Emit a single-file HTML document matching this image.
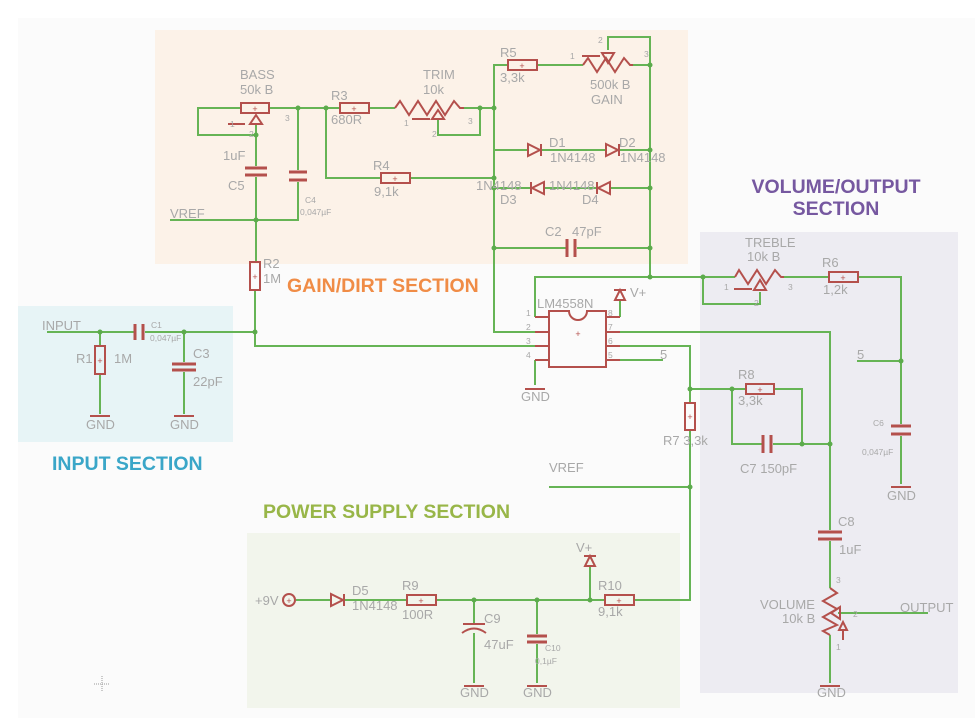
<!DOCTYPE html>
<html><head><meta charset="utf-8"><style>
html,body{margin:0;padding:0;background:#fff}
svg{display:block}
text{font-family:"Liberation Sans",sans-serif}
.t{fill:#a8a8a8;font-size:13px}
.s{fill:#a8a8a8;font-size:8.5px}
.w{stroke:#66b455;stroke-width:2;fill:none}
.c{stroke:#b4504c;stroke-width:2;fill:none}
.cf{fill:#b4504c;stroke:none}
.d{fill:#5cab4c}
.h{font-weight:bold;font-size:19.5px}
</style></head><body>
<svg width="978" height="723" viewBox="0 0 978 723" xmlns="http://www.w3.org/2000/svg">
<rect x="0" y="0" width="978" height="723" fill="#fff"/>
<rect x="18" y="18" width="957" height="700" fill="#fbfbfb"/>
<rect x="155" y="30" width="533" height="234" fill="#fcf2e8"/>
<rect x="18" y="306" width="215" height="136" fill="#e7f4f6"/>
<rect x="247" y="533" width="433" height="175" fill="#f2f5ec"/>
<rect x="700" y="232" width="258" height="461" fill="#edecf2"/>

<text x="287" y="292" class="h" fill="#f08c46">GAIN/DIRT SECTION</text>
<text x="52" y="470" class="h" fill="#3aa6c8">INPUT SECTION</text>
<text x="263" y="518" class="h" fill="#98b648">POWER SUPPLY SECTION</text>
<text x="836" y="193" class="h" fill="#7658a0" text-anchor="middle">VOLUME/OUTPUT</text>
<text x="836" y="215" class="h" fill="#7658a0" text-anchor="middle">SECTION</text>

<g class="w">
<polyline points="241,108 198,108 198,135 256,135 256,124"/>
<line x1="269" y1="108" x2="340" y2="108"/>
<line x1="256" y1="135" x2="256" y2="166"/>
<line x1="256" y1="177" x2="256" y2="262"/>
<polyline points="298,108 298,170"/>
<polyline points="298,182 298,220 170,220"/>
<line x1="369" y1="108" x2="395" y2="108"/>
<line x1="464" y1="108" x2="494" y2="108"/>
<polyline points="438,120 438,135 480,135 480,108"/>
<polyline points="326,108 326,178 381,178"/>
<line x1="410" y1="178" x2="494" y2="178"/>
<polyline points="508,65 494,65 494,332 535,332"/>
<line x1="537" y1="65" x2="583" y2="65"/>
<line x1="633" y1="65" x2="650" y2="65"/>
<polyline points="608,50 608,37 650,37 650,277"/>
<line x1="494" y1="150" x2="528" y2="150"/>
<line x1="541" y1="150" x2="606" y2="150"/>
<line x1="619" y1="150" x2="650" y2="150"/>
<line x1="494" y1="188" x2="531" y2="188"/>
<line x1="544" y1="188" x2="597" y2="188"/>
<line x1="610" y1="188" x2="650" y2="188"/>
<line x1="494" y1="248" x2="566" y2="248"/>
<line x1="577" y1="248" x2="650" y2="248"/>
<polyline points="535,317 535,277 735,277"/>
<polyline points="784,277 829,277"/>
<polyline points="858,277 901,277 901,424"/>
<line x1="901" y1="436" x2="901" y2="484"/>
<line x1="857" y1="361" x2="901" y2="361"/>
<polyline points="760,292 760,304 703,304 703,277"/>
<polyline points="255,332 255,346 535,346"/>
<polyline points="535,360 535,385"/>
<polyline points="620,317 620,300"/>
<polyline points="620,332 830,332 830,530"/>
<line x1="830" y1="541" x2="830" y2="588"/>
<line x1="830" y1="635" x2="830" y2="683"/>
<line x1="838" y1="613" x2="928" y2="613"/>
<polyline points="620,346 690,346 690,403"/>
<polyline points="690,430 690,600 634,600"/>
<line x1="620" y1="360" x2="663" y2="360"/>
<line x1="549" y1="487" x2="690" y2="487"/>
<polyline points="690,389 746,389"/>
<polyline points="774,389 802,389 802,444"/>
<polyline points="732,389 732,444 762,444"/>
<line x1="773" y1="444" x2="830" y2="444"/>
<line x1="47" y1="332" x2="134" y2="332"/>
<line x1="145" y1="332" x2="255" y2="332"/>
<line x1="255" y1="332" x2="255" y2="290"/>
<line x1="100" y1="332" x2="100" y2="346"/>
<line x1="100" y1="374" x2="100" y2="414"/>
<line x1="184" y1="332" x2="184" y2="362"/>
<line x1="184" y1="372" x2="184" y2="414"/>
<line x1="296" y1="600" x2="330" y2="600"/>
<line x1="344" y1="600" x2="407" y2="600"/>
<line x1="436" y1="600" x2="605" y2="600"/>
<line x1="474" y1="600" x2="474" y2="623"/>
<line x1="474" y1="633" x2="474" y2="683"/>
<line x1="537" y1="600" x2="537" y2="634"/>
<line x1="537" y1="644" x2="537" y2="683"/>
<line x1="590" y1="600" x2="590" y2="566"/>
</g>

<g class="d">
<circle cx="256" cy="135" r="2.5"/><circle cx="298" cy="108" r="2.5"/><circle cx="326" cy="108" r="2.5"/>
<circle cx="256" cy="220" r="2.5"/><circle cx="480" cy="108" r="2.5"/><circle cx="494" cy="108" r="2.5"/>
<circle cx="494" cy="178" r="2.5"/><circle cx="494" cy="188" r="2.5"/><circle cx="494" cy="248" r="2.5"/>
<circle cx="650" cy="65" r="2.5"/><circle cx="650" cy="150" r="2.5"/><circle cx="650" cy="188" r="2.5"/>
<circle cx="650" cy="248" r="2.5"/><circle cx="650" cy="277" r="2.5"/><circle cx="703" cy="277" r="2.5"/>
<circle cx="901" cy="361" r="2.5"/><circle cx="690" cy="389" r="2.5"/><circle cx="732" cy="389" r="2.5"/>
<circle cx="802" cy="444" r="2.5"/><circle cx="830" cy="444" r="2.5"/><circle cx="690" cy="487" r="2.5"/>
<circle cx="100" cy="332" r="2.5"/><circle cx="184" cy="332" r="2.5"/><circle cx="255" cy="332" r="2.5"/>
<circle cx="474" cy="600" r="2.5"/><circle cx="537" cy="600" r="2.5"/><circle cx="590" cy="600" r="2.5"/>
</g>

<g class="c">
<rect x="241" y="103" width="28" height="10"/>
<polygon points="256,115 250,124 262,124"/>
<line x1="228" y1="124" x2="245" y2="124"/>
<line x1="245" y1="168" x2="267" y2="168" stroke-width="3"/><line x1="245" y1="175" x2="267" y2="175" stroke-width="3"/>
<line x1="289" y1="172" x2="307" y2="172" stroke-width="3"/><line x1="289" y1="180" x2="307" y2="180" stroke-width="3"/>
<rect x="340" y="103" width="29" height="10"/>
<polyline points="395,108 400,101 409,115 418,101 427,115 436,101 445,115 454,101 460,108 464,108"/>
<polygon points="438,110 432,119 444,119"/>
<line x1="412" y1="119" x2="430" y2="119"/>
<rect x="381" y="173" width="29" height="10"/>
<rect x="508" y="60" width="29" height="10"/>
<polyline points="583,65 588,58 597,72 606,58 615,72 624,58 630,65 633,65"/>
<polygon points="608,63 602,53 614,53"/>
<line x1="582" y1="56" x2="600" y2="56"/>
<polygon points="528,144 528,156 540,150"/><line x1="541" y1="144" x2="541" y2="156"/>
<polygon points="606,144 606,156 618,150"/><line x1="619" y1="144" x2="619" y2="156"/>
<polygon points="544,182 544,194 532,188"/><line x1="531" y1="182" x2="531" y2="194"/>
<polygon points="610,182 610,194 598,188"/><line x1="597" y1="182" x2="597" y2="194"/>
<line x1="567" y1="239" x2="567" y2="257" stroke-width="3"/><line x1="575" y1="239" x2="575" y2="257" stroke-width="3"/>
<rect x="250" y="262" width="10" height="28"/>
<path d="M549,311 L569,311 A9,9 0 0 0 587,311 L606,311 L606,367 L549,367 Z"/>
<line x1="535" y1="317" x2="549" y2="317"/><line x1="535" y1="332" x2="549" y2="332"/>
<line x1="535" y1="346" x2="549" y2="346"/><line x1="535" y1="360" x2="549" y2="360"/>
<line x1="606" y1="317" x2="620" y2="317"/><line x1="606" y1="332" x2="620" y2="332"/>
<line x1="606" y1="346" x2="620" y2="346"/><line x1="606" y1="360" x2="620" y2="360"/>
<line x1="525" y1="389" x2="545" y2="389"/>
<polygon points="620,290 615,300 625,300"/><line x1="614" y1="290" x2="626" y2="290"/>
<polyline points="735,277 739,270 748,284 757,270 766,284 775,270 781,277 784,277"/>
<polygon points="760,280 754,290 766,290"/>
<line x1="734" y1="289" x2="752" y2="289"/>
<rect x="829" y="272" width="29" height="10"/>
<line x1="891" y1="426" x2="911" y2="426" stroke-width="3"/><line x1="891" y1="434" x2="911" y2="434" stroke-width="3"/>
<line x1="891" y1="487" x2="911" y2="487"/>
<rect x="746" y="384" width="28" height="10"/>
<rect x="685" y="403" width="10" height="27"/>
<line x1="763" y1="435" x2="763" y2="453" stroke-width="3"/><line x1="771" y1="435" x2="771" y2="453" stroke-width="3"/>
<line x1="818" y1="532" x2="842" y2="532" stroke-width="3"/><line x1="818" y1="539" x2="842" y2="539" stroke-width="3"/>
<polyline points="830,588 837,593 823,601 837,609 823,617 837,625 823,631 830,635"/>
<polygon points="831,613 840,607 840,619"/>
<polygon points="843,622 839,630 847,630"/><line x1="843" y1="630" x2="843" y2="640"/>
<line x1="820" y1="686" x2="840" y2="686"/>
<rect x="95" y="346" width="10" height="28"/>
<line x1="90" y1="416" x2="110" y2="416"/>
<line x1="135" y1="324" x2="135" y2="340" stroke-width="3"/><line x1="143" y1="324" x2="143" y2="340" stroke-width="3"/>
<line x1="172" y1="364" x2="196" y2="364" stroke-width="3"/><line x1="172" y1="370" x2="196" y2="370" stroke-width="3"/>
<line x1="174" y1="416" x2="194" y2="416"/>
<circle cx="289" cy="600" r="6"/>
<polygon points="331,594 331,606 343,600"/><line x1="344" y1="594" x2="344" y2="606"/>
<rect x="407" y="595" width="29" height="10"/>
<line x1="463" y1="624" x2="485" y2="624"/>
<path d="M462,633 Q474,624 486,633"/>
<line x1="464" y1="686" x2="484" y2="686"/>
<line x1="527" y1="636" x2="547" y2="636" stroke-width="3"/><line x1="527" y1="642" x2="547" y2="642" stroke-width="3"/>
<line x1="527" y1="686" x2="547" y2="686"/>
<polygon points="590,556 585,566 595,566"/><line x1="584" y1="556" x2="596" y2="556"/>
<rect x="605" y="595" width="29" height="10"/>
</g>
<g class="cf" font-size="9" font-family="Liberation Sans">
<text x="255" y="112" text-anchor="middle">+</text><text x="354" y="112" text-anchor="middle">+</text>
<text x="395" y="182" text-anchor="middle">+</text><text x="522" y="69" text-anchor="middle">+</text>
<text x="578" y="337" text-anchor="middle">+</text><text x="843" y="281" text-anchor="middle">+</text>
<text x="760" y="393" text-anchor="middle">+</text><text x="421" y="604" text-anchor="middle">+</text>
<text x="619" y="604" text-anchor="middle">+</text><text x="100" y="364" text-anchor="middle">+</text>
<text x="255" y="280" text-anchor="middle">+</text><text x="690" y="420" text-anchor="middle">+</text>
<text x="289" y="604" text-anchor="middle">+</text>
</g>

<g class="t">
<text x="240" y="79">BASS</text><text x="240" y="94">50k B</text>
<text x="331" y="100">R3</text><text x="331" y="124">680R</text>
<text x="423" y="79">TRIM</text><text x="423" y="94">10k</text>
<text x="373" y="170">R4</text><text x="374" y="196">9,1k</text>
<text x="500" y="57">R5</text><text x="500" y="82">3,3k</text>
<text x="590" y="89">500k B</text><text x="591" y="104">GAIN</text>
<text x="223" y="160">1uF</text><text x="228" y="190">C5</text>
<text x="170" y="218">VREF</text>
<text x="549" y="147">D1</text><text x="550" y="162">1N4148</text>
<text x="619" y="147">D2</text><text x="620" y="162">1N4148</text>
<text x="476" y="190">1N4148</text><text x="500" y="204">D3</text>
<text x="549" y="190">1N4148</text><text x="582" y="204">D4</text>
<text x="545" y="236">C2</text><text x="572" y="236">47pF</text>
<text x="263" y="268">R2</text><text x="263" y="283">1M</text>
<text x="537" y="308">LM4558N</text>
<text x="630" y="297">V+</text>
<text x="521" y="401">GND</text>
<text x="660" y="359">5</text>
<text x="745" y="247">TREBLE</text><text x="747" y="261">10k B</text>
<text x="822" y="267">R6</text><text x="823" y="294">1,2k</text>
<text x="857" y="359">5</text>
<text x="887" y="500">GND</text>
<text x="738" y="379">R8</text><text x="738" y="405">3,3k</text>
<text x="663" y="445">R7 3,3k</text>
<text x="740" y="473">C7 150pF</text>
<text x="549" y="472">VREF</text>
<text x="838" y="526">C8</text><text x="839" y="554">1uF</text>
<text x="760" y="609">VOLUME</text><text x="782" y="623">10k B</text>
<text x="900" y="612">OUTPUT</text>
<text x="817" y="697">GND</text>
<text x="42" y="330">INPUT</text>
<text x="76" y="363">R1</text><text x="114" y="363">1M</text>
<text x="193" y="358">C3</text><text x="193" y="386">22pF</text>
<text x="86" y="429">GND</text><text x="170" y="429">GND</text>
<text x="255" y="605">+9V</text>
<text x="352" y="595">D5</text><text x="352" y="610">1N4148</text>
<text x="402" y="590">R9</text><text x="402" y="619">100R</text>
<text x="484" y="623">C9</text><text x="484" y="649">47uF</text>
<text x="460" y="697">GND</text><text x="523" y="697">GND</text>
<text x="576" y="552">V+</text>
<text x="598" y="590">R10</text><text x="598" y="616">9,1k</text>
</g>
<g class="s">
<text x="230" y="127">1</text><text x="285" y="121">3</text><text x="249" y="137">2</text>
<text x="404" y="126">1</text><text x="468" y="124">3</text><text x="432" y="137">2</text>
<text x="570" y="59">1</text><text x="598" y="43">2</text><text x="644" y="57">3</text>
<text x="305" y="203">C4</text><text x="300" y="215">0,047µF</text>
<text x="724" y="290">1</text><text x="788" y="290">3</text><text x="754" y="306">2</text>
<text x="526" y="316">1</text><text x="526" y="330">2</text><text x="526" y="344">3</text><text x="526" y="358">4</text>
<text x="608" y="316">8</text><text x="608" y="330">7</text><text x="608" y="344">6</text><text x="608" y="358">5</text>
<text x="873" y="426">C6</text><text x="862" y="455">0,047µF</text>
<text x="836" y="583">3</text><text x="853" y="617">2</text><text x="836" y="650">1</text>
<text x="151" y="328">C1</text><text x="150" y="341">0,047µF</text>
<text x="545" y="651">C10</text><text x="535" y="664">0,1µF</text>
</g>
<g stroke="#999" stroke-width="1" stroke-dasharray="1,1"><line x1="94" y1="684" x2="110" y2="684"/><line x1="102" y1="676" x2="102" y2="692"/></g>
</svg>
</body></html>
